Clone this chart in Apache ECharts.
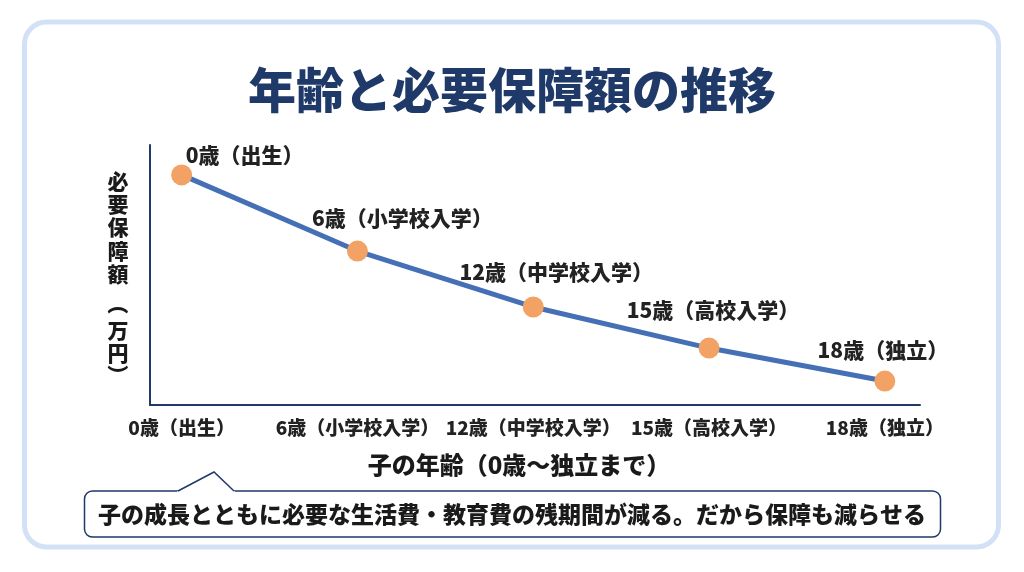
<!DOCTYPE html>
<html>
<head>
<meta charset="UTF-8">
<title>年齢と必要保障額の推移</title>
<script src="https://cdn.jsdelivr.net/npm/echarts@6/dist/echarts.min.js"></script>
<style>
  html, body { margin: 0; padding: 0; background: #fff; }
  #chart { width: 1024px; height: 572px; }
</style>
</head>
<body>
<div id="chart"></div>
<script type="text/javascript">
// 子の年齢（カテゴリ）
var ages = ['0歳（出生）', '6歳（小学校入学）', '12歳（中学校入学）', '15歳（高校入学）', '18歳（独立）'];
// 必要保障額（目盛なし・図から読み取った相対値）
var amounts = [8850, 5920, 3770, 2190, 920];

var font = '"Noto Sans CJK JP", "Noto Sans", sans-serif';
var navy = '#1f3a68';
var ink = '#1a1a1a';

// ラベルの位置ずらし（点からの相対）
var labelOffsets = [[63, -20], [45, -33], [23, -35], [4, -38], [-2, -31]];

var points = [];
for (var i = 0; i < ages.length; i++) {
	points.push({
		name: ages[i],
		value: [i, amounts[i]],
		label: { offset: labelOffsets[i] }
	});
}

var myChart = echarts.init(document.getElementById('chart'));
var option = {
	animation: false,
	title: {
		text: '年齢と必要保障額の推移',
		left: 'center',
		top: 61,
		textStyle: { fontFamily: font, fontSize: 48, fontWeight: 900, color: navy }
	},
	grid: { left: 150, right: 104, top: 145, bottom: 167 },
	xAxis: {
		type: 'value',
		min: -0.18,
		max: 4.2,
		name: '子の年齢（0歳〜独立まで）',
		nameLocation: 'middle',
		nameGap: 48,
		nameTextStyle: { fontFamily: font, fontSize: 24, fontWeight: 900, color: ink, padding: [0, 32, 0, 0] },
		axisLine: { show: true, onZero: false, lineStyle: { color: navy, width: 2 } },
		axisTick: { show: false },
		splitLine: { show: false },
		axisLabel: {
			customValues: [0, 1, 2, 3, 4],
			margin: 13,
			fontFamily: font, fontSize: 19, fontWeight: 900, color: '#222',
			formatter: function (v) { return ages[Math.round(v)]; }
		}
	},
	yAxis: {
		type: 'value',
		min: 0,
		max: 10000,
		axisLine: { show: true, onZero: false, lineStyle: { color: navy, width: 2 } },
		axisTick: { show: false },
		axisLabel: { show: false },
		splitLine: { show: false }
	},
	series: [{
		type: 'line',
		data: points,
		symbol: 'circle',
		symbolSize: 21,
		itemStyle: { color: '#f2a264' },
		lineStyle: { color: '#4670b5', width: 5 },
		z: 3,
		label: {
			show: true,
			position: 'inside',
			formatter: '{b}',
			fontFamily: font, fontSize: 21, fontWeight: 900, color: '#222'
		}
	}],
	graphic: [
		// 外枠
		{
			type: 'rect', z: -10,
			shape: { x: 24.5, y: 22, width: 974, height: 525, r: 22 },
			style: { fill: '#fff', stroke: '#d2e1f5', lineWidth: 5 }
		},
		// 縦の軸名（括弧は回転させて縦書き風に）
		{
			type: 'text', x: 118, y: 169, z: 5,
			style: {
				text: '必\n要\n保\n障\n額',
				font: '900 21px ' + font,
				lineHeight: 23.3,
				fill: ink,
				align: 'center'
			}
		},
		{
			type: 'text', x: 118, y: 304, rotation: -Math.PI / 2, z: 5,
			style: { text: '（', font: '900 21px ' + font, fill: ink, align: 'center', verticalAlign: 'middle' }
		},
		{
			type: 'text', x: 118, y: 318, z: 5,
			style: {
				text: '万\n円',
				font: '900 21px ' + font,
				lineHeight: 23.3,
				fill: ink,
				align: 'center'
			}
		},
		{
			type: 'text', x: 118, y: 375, rotation: -Math.PI / 2, z: 5,
			style: { text: '）', font: '900 21px ' + font, fill: ink, align: 'center', verticalAlign: 'middle' }
		},
		// 吹き出し
		{
			type: 'rect', z: 5,
			shape: { x: 84.5, y: 491, width: 856, height: 46, r: 8 },
			style: { fill: '#fff', stroke: navy, lineWidth: 1.5 }
		},
		{
			type: 'polygon', z: 6,
			shape: { points: [[176, 492.5], [178, 491], [214, 472], [234, 491], [236, 492.5]] },
			style: { fill: '#fff', stroke: null }
		},
		{
			type: 'polyline', z: 7,
			shape: { points: [[178, 491], [214, 472], [234, 491]] },
			style: { fill: null, stroke: navy, lineWidth: 1.5 }
		},
		{
			type: 'text', z: 8,
			x: 512, y: 514,
			style: {
				text: '子の成長とともに必要な生活費・教育費の残期間が減る。だから保障も減らせる',
				font: '900 23px ' + font,
				fill: ink,
				align: 'center',
				verticalAlign: 'middle'
			}
		}
	]
};
myChart.setOption(option);
</script>
</body>
</html>
